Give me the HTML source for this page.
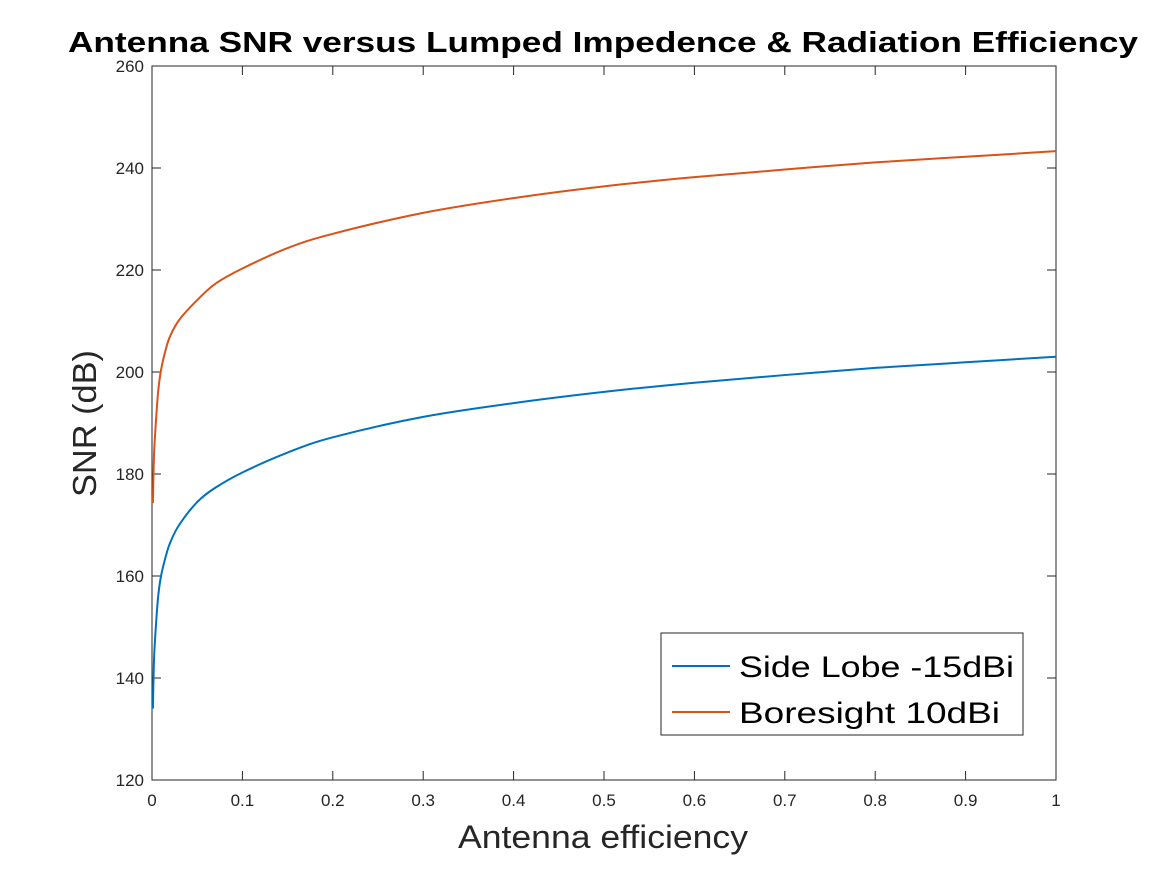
<!DOCTYPE html>
<html><head><meta charset="utf-8"><style>
body{margin:0;background:#fff;}
svg text{font-family:"Liberation Sans",Arial,sans-serif;}
</style></head><body>
<svg id="chart" width="1167" height="875" viewBox="0 0 1167 875" xmlns="http://www.w3.org/2000/svg">
<rect width="1167" height="875" fill="#fff"/>
<text x="68" y="52" textLength="1070" lengthAdjust="spacingAndGlyphs" font-size="29" font-weight="bold" fill="#000">Antenna SNR versus Lumped Impedence &amp; Radiation Efficiency</text>
<g id="axes"></g>
<g id="series"></g>
<text x="458" y="848" textLength="290" lengthAdjust="spacingAndGlyphs" font-size="32" fill="#262626">Antenna efficiency</text>
<text transform="translate(96,497) rotate(-90)" textLength="147" lengthAdjust="spacingAndGlyphs" font-size="33" fill="#262626">SNR (dB)</text>
<g>
<rect x="661" y="633" width="362" height="102" fill="#fff" stroke="#262626" stroke-width="1"/>
<line x1="672" y1="666" x2="730" y2="666" stroke="#0072BD" stroke-width="2"/>
<text x="739" y="677" textLength="275" lengthAdjust="spacingAndGlyphs" font-size="30" fill="#000">Side Lobe -15dBi</text>
<line x1="672" y1="712" x2="730" y2="712" stroke="#D95319" stroke-width="2"/>
<text x="739" y="723" textLength="261" lengthAdjust="spacingAndGlyphs" font-size="30" fill="#000">Boresight 10dBi</text>
</g>
</svg>
<script>
const xTicks=[0,0.1,0.2,0.3,0.4,0.5,0.6,0.7,0.8,0.9,1];
const xTickLabels=["0","0.1","0.2","0.3","0.4","0.5","0.6","0.7","0.8","0.9","1"];
const yTicks=[120,140,160,180,200,220,240,260];
const efficiency=[0.001,0.002,0.003,0.005,0.007,0.01,0.015,0.02,0.03,0.05,0.07,0.1,0.15,0.2,0.3,0.4,0.5,0.6,0.7,0.8,0.9,1];
const sideLobe=[134,142.5,146.5,152,156.3,160,163.7,166.5,170,174.5,177.3,180.3,184.2,187.2,191.2,193.9,196.1,197.9,199.4,200.8,201.9,203];
const boresight=[174.3,182.5,186.5,192,196.5,200.4,204.3,207,210.2,214.1,217.3,220.3,224.3,227.1,231.2,234.1,236.4,238.2,239.7,241.1,242.2,243.3];
const L=152,R=1056,T=66,B=780;
const xs=v=>L+(v-0)/(1-0)*(R-L);
const ys=v=>B-(v-120)/(260-120)*(B-T);
const NS="http://www.w3.org/2000/svg";
const ax=document.getElementById('axes');
function mk(tag,attrs,parent){const e=document.createElementNS(NS,tag);for(const k in attrs)e.setAttribute(k,attrs[k]);parent.appendChild(e);return e;}
const frame=mk('rect',{x:L,y:T,width:R-L,height:B-T,fill:'none',stroke:'#262626','stroke-width':1},ax);


xTicks.forEach((t,i)=>{
 const x=xs(t);
 mk('line',{x1:x,y1:B,x2:x,y2:B-9,stroke:'#262626'},ax);
 mk('line',{x1:x,y1:T,x2:x,y2:T+9,stroke:'#262626'},ax);
 const tx=mk('text',{x:x,y:B+26,'text-anchor':'middle','font-size':17,fill:'#262626'},ax);
 tx.textContent=xTickLabels[i];
 
 
});
yTicks.forEach(t=>{
 const y=ys(t);
 mk('line',{x1:L,y1:y,x2:L+9,y2:y,stroke:'#262626'},ax);
 mk('line',{x1:R,y1:y,x2:R-9,y2:y,stroke:'#262626'},ax);
 const tx=mk('text',{x:L-8,y:y+6,'text-anchor':'end','font-size':17,fill:'#262626'},ax);
 tx.textContent=t;
 
 
});
const sg=document.getElementById('series');
function line(vals,color,name){
 const pts=vals.map((v,i)=>[xs(efficiency[i]),ys(v)]);
 let d='M'+pts[0][0].toFixed(2)+','+pts[0][1].toFixed(2);
 for(let i=0;i<pts.length-1;i++){
  const p0=pts[Math.max(i-1,0)],p1=pts[i],p2=pts[i+1],p3=pts[Math.min(i+2,pts.length-1)];
  const c1=[p1[0]+(p2[0]-p0[0])/6,p1[1]+(p2[1]-p0[1])/6];
  const c2=[p2[0]-(p3[0]-p1[0])/6,p2[1]-(p3[1]-p1[1])/6];
  d+=' C'+c1.map(n=>n.toFixed(2)).join(',')+' '+c2.map(n=>n.toFixed(2)).join(',')+' '+p2.map(n=>n.toFixed(2)).join(',');
 }
 const p=mk('path',{d:d,fill:'none',stroke:color,'stroke-width':2,'stroke-linejoin':'round'},sg);
 
 
}
line(sideLobe,'#0072BD','side-lobe-line');
line(boresight,'#D95319','boresight-line');
</script>
</body></html>
